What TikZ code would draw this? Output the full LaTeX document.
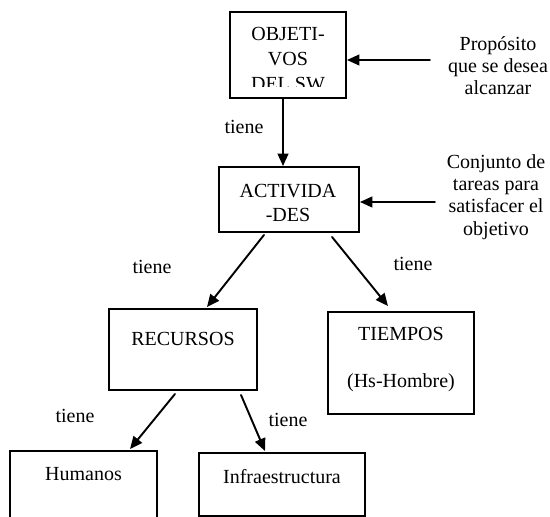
\documentclass[tikz,border=0pt]{standalone}
\usepackage{fontspec}
\setmainfont{Liberation Serif}
\usetikzlibrary{positioning,calc,arrows.meta}

\begin{document}
\begin{tikzpicture}[line cap=round, line join=round, >={Triangle[length=7.5pt,width=6.5pt]},
    x=0.6pt, y=-0.6pt, font=\fontsize{12}{14.4}\selectfont,
    box/.style={draw, line width=1.15pt, line join=miter, inner sep=0pt},
    boxtext/.style={anchor=north, inner sep=0pt, align=center},
    note/.style={anchor=north, inner sep=0pt, align=center, font=\fontsize{12}{13.4}\selectfont},
    arr/.style={->, line width=1.15pt}]
    % Define window bounds (one unit is one pixel of the page)
    \def\u{0.6pt}
    \clip (0,0) rectangle (550,517);

    % Boxes
    \node[box, minimum width=116*\u, minimum height=86*\u] (obj) at (288,55) {};
    \node[box, minimum width=140*\u, minimum height=65*\u] (act) at (289,199.5) {};
    \node[box, minimum width=148*\u, minimum height=81*\u] (rec) at (183,349.5) {};
    \node[box, minimum width=146*\u, minimum height=102*\u] (tie) at (401,363) {};
    \node[box, minimum width=147*\u, minimum height=100*\u] (hum) at (83.5,501) {};
    \node[box, minimum width=166*\u, minimum height=63*\u] (inf) at (282,484.5) {};

    % Box texts, the first one cut at its lower edge
    \begin{scope}
        \clip (232,14) rectangle (344,87);
        \node[boxtext, font=\fontsize{12}{15}\selectfont] (objtxt) at ($(obj.north)+(0,16)$) {OBJETI-\\VOS\\DEL SW};
    \end{scope}
    \node[boxtext] (acttxt) at ($(act.north)+(-1,17.5)$) {ACTIVIDA\\-DES};
    \node[boxtext] (rectxt) at ($(rec.north)+(0,23.5)$) {RECURSOS};
    \node[boxtext] (tietxt) at ($(tie.north)+(0,15.5)$) {TIEMPOS\\[14pt](Hs-Hombre)};
    \node[boxtext] (humtxt) at ($(hum.north)+(0,17.5)$) {Humanos};
    \node[boxtext] (inftxt) at ($(inf.north)+(0,17)$) {Infraestructura};

    % Side notes and their arrows
    \node[note] (prop) at (498,36) {Propósito\\que se desea\\alcanzar};
    \node[note] (conj) at (496,154) {Conjunto de\\tareas para\\satisfacer el\\objetivo};
    \coordinate (propend) at (430,60);
    \coordinate (conjend) at (435,202);
    \draw[arr] (propend) -- (propend -| obj.east);
    \draw[arr] (conjend) -- (conjend -| act.east);

    % Connectors
    \draw[arr] ($(obj.south)+(-5,0)$) -- ($(act.north)+(-6,0)$);
    \draw[arr] ($(act.south)+(-25,2)$) -- ($(rec.north)+(24,-1)$);
    \draw[arr] ($(act.south)+(43,4)$) -- ($(tie.north)+(-13,-5)$);
    \draw[arr] ($(rec.south)+(-8,3)$) -- ($(hum.north)+(46.5,-1)$);
    \draw[arr] ($(rec.south)+(58,4)$) -- ($(inf.north)+(-17,-1)$);

    % Labels
    \node (t1) at (244,127) {tiene};
    \node (t2) at (152,267) {tiene};
    \node (t3) at (413,264) {tiene};
    \node (t4) at (75,416) {tiene};
    \node (t5) at (288,420) {tiene};
\end{tikzpicture}
\end{document}
